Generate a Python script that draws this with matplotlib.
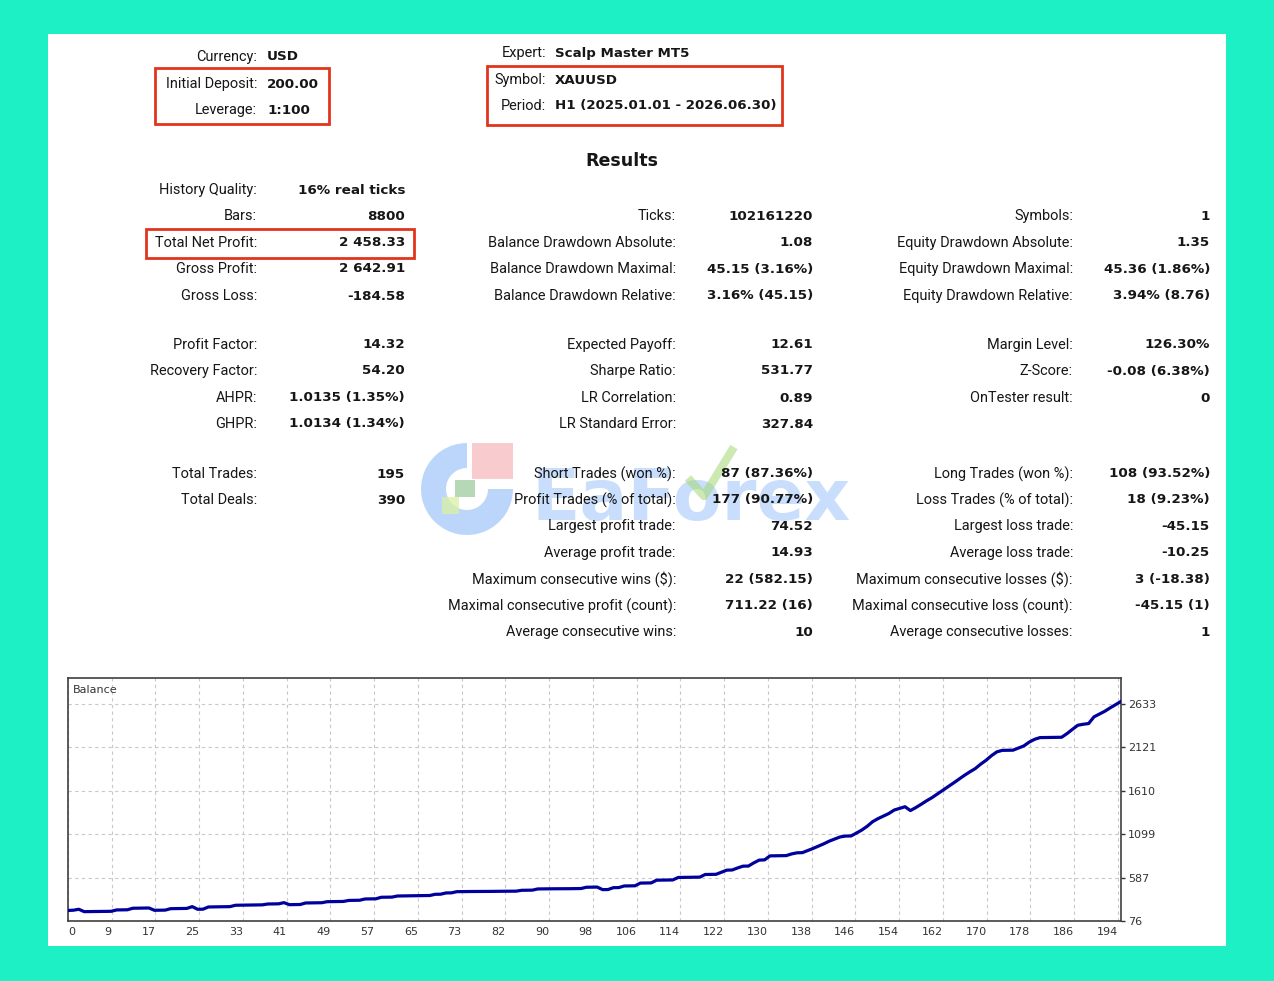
import matplotlib.pyplot as plt
import matplotlib.patches as mpatches
import numpy as np

# header block
head_left_labels = ["Currency:", "Initial Deposit:", "Leverage:"]
head_left_values = ["USD", "200.00", "1:100"]
head_right_labels = ["Expert:", "Symbol:", "Period:"]
head_right_values = ["Scalp Master MT5", "XAUUSD", "H1 (2025.01.01 - 2026.06.30)"]

# results table, three columns
left_labels = ["History Quality:", "Bars:", "Total Net Profit:", "Gross Profit:", "Gross Loss:",
               "Profit Factor:", "Recovery Factor:", "AHPR:", "GHPR:",
               "Total Trades:", "Total Deals:"]
left_values = ["16% real ticks", "8800", "2 458.33", "2 642.91", "-184.58",
               "14.32", "54.20", "1.0135 (1.35%)", "1.0134 (1.34%)",
               "195", "390"]

mid_labels = ["Ticks:", "Balance Drawdown Absolute:", "Balance Drawdown Maximal:",
              "Balance Drawdown Relative:", "Expected Payoff:", "Sharpe Ratio:",
              "LR Correlation:", "LR Standard Error:", "Short Trades (won %):",
              "Profit Trades (% of total):", "Largest profit trade:", "Average profit trade:",
              "Maximum consecutive wins ($):", "Maximal consecutive profit (count):",
              "Average consecutive wins:"]
mid_values = ["102161220", "1.08", "45.15 (3.16%)", "3.16% (45.15)", "12.61", "531.77",
              "0.89", "327.84", "87 (87.36%)", "177 (90.77%)", "74.52", "14.93",
              "22 (582.15)", "711.22 (16)", "10"]

right_labels = ["Symbols:", "Equity Drawdown Absolute:", "Equity Drawdown Maximal:",
                "Equity Drawdown Relative:", "Margin Level:", "Z-Score:", "OnTester result:",
                None, "Long Trades (won %):", "Loss Trades (% of total):", "Largest loss trade:",
                "Average loss trade:", "Maximum consecutive losses ($):",
                "Maximal consecutive loss (count):", "Average consecutive losses:"]
right_values = ["1", "1.35", "45.36 (1.86%)", "3.94% (8.76)", "126.30%", "-0.08 (6.38%)", "0",
                None, "108 (93.52%)", "18 (9.23%)", "-45.15", "-10.25", "3 (-18.38)",
                "-45.15 (1)", "1"]

# balance curve, one point per closed trade
balance = [
    200, 203, 214, 186, 187, 188, 188, 189, 190, 206,
    207, 208, 226, 227, 228, 229, 202, 203, 204, 221,
    222, 223, 224, 245, 214, 215, 241, 242, 243, 244,
    245, 261, 262, 263, 264, 265, 266, 276, 277, 278,
    292, 268, 269, 270, 288, 289, 290, 291, 303, 304,
    305, 306, 318, 319, 320, 335, 336, 337, 355, 356,
    357, 370, 371, 372, 373, 374, 375, 376, 390, 391,
    406, 407, 421, 422, 422, 423, 423, 424, 424, 425,
    425, 426, 426, 427, 437, 438, 439, 453, 454, 454,
    455, 455, 456, 456, 457, 458, 473, 474, 475, 445,
    446, 468, 469, 488, 489, 490, 522, 523, 524, 556,
    557, 558, 559, 588, 589, 590, 591, 592, 623, 624,
    625, 650, 674, 676, 700, 721, 722, 760, 792, 795,
    842, 843, 844, 845, 865, 878, 880, 905, 930, 957,
    985, 1016, 1040, 1065, 1075, 1076, 1110, 1146, 1190, 1244,
    1280, 1310, 1340, 1381, 1400, 1420, 1375, 1410, 1449, 1490,
    1527, 1570, 1613, 1655, 1700, 1745, 1789, 1830, 1868, 1920,
    1966, 2020, 2065, 2083, 2084, 2085, 2110, 2135, 2180, 2213,
    2233, 2234, 2235, 2236, 2237, 2280, 2330, 2378, 2390, 2398,
    2477, 2510, 2543, 2583, 2620, 2658.33,
]
y_ticks = [76, 587, 1099, 1610, 2121, 2633]
x_tick_labels = ["0", "9", "17", "25", "33", "41", "49", "57", "65", "73", "82", "90", "98",
                 "106", "114", "122", "130", "138", "146", "154", "162", "170", "178", "186", "194"]

W, H = 1274, 981
LABEL_FONT = "Roboto"
VALUE_FONT = "DejaVu Sans"
TXT = "#161616"
RED = "#e2341d"

fig = plt.figure(figsize=(W / 100, H / 100), dpi=100)
fig.patch.set_facecolor("#1ef0c6")

# full-figure canvas in pixel units for the report part
bg = fig.add_axes([0, 0, 1, 1])
bg.set_xlim(0, W)
bg.set_ylim(H, 0)
bg.axis("off")
bg.add_patch(mpatches.Rectangle((48, 34), 1178, 912, facecolor="white", edgecolor="none"))


def label(x, y, s):
    bg.text(x, y, s, ha="right", va="center", fontsize=10.45, family=LABEL_FONT, color=TXT,
            zorder=7)


def value(x, y, s, ha="right", size=9.7):
    bg.text(x, y, s, ha=ha, va="center", fontsize=size, family=VALUE_FONT,
            fontweight="bold", color=TXT, zorder=7)


for lab, val, y in zip(head_left_labels, head_left_values, [57, 84, 110]):
    label(257, y, lab)
    value(267, y, val, ha="left")
for lab, val, y in zip(head_right_labels, head_right_values, [53, 80, 106]):
    label(546, y, lab)
    value(555, y, val, ha="left", size=9.6)

bg.text(622, 161, "Results", ha="center", va="center", fontsize=12.6,
        family=VALUE_FONT, fontweight="bold", color=TXT)

row_y = [190, 216, 243, 269, 296, 345, 371, 398, 424, 474, 500, 526, 553, 579, 606, 632]

for lab, val, y in zip(left_labels, left_values, row_y):
    label(257, y, lab)
    value(405, y, val)
for lab, val, y in zip(mid_labels, mid_values, row_y[1:]):
    label(676, y, lab)
    value(813, y, val)
for lab, val, y in zip(right_labels, right_values, row_y[1:]):
    if lab is None:
        continue
    label(1073, y, lab)
    value(1210, y, val)

# red highlight boxes
for (x0, y0, x1, y1) in [(155, 68, 329, 124), (487, 66, 782, 125), (146, 229, 414, 258)]:
    bg.add_patch(mpatches.Rectangle((x0, y0), x1 - x0, y1 - y0, fill=False,
                                    edgecolor=RED, linewidth=2.0))

# watermark (logo + text), drawn under the report text
bg.add_patch(mpatches.Wedge((467, 489), 46, 0, 270, width=25, facecolor="#79aef7",
                            edgecolor="none", alpha=0.5, zorder=5))
bg.add_patch(mpatches.Rectangle((472, 443), 41, 36, facecolor="#f4a3a8", alpha=0.55,
                                edgecolor="none", zorder=5))
bg.add_patch(mpatches.Rectangle((455, 480), 20, 17, facecolor="#86bf86", alpha=0.6,
                                edgecolor="none", zorder=6))
bg.add_patch(mpatches.Rectangle((442, 497), 17, 17, facecolor="#d9f1a1", alpha=0.75,
                                edgecolor="none", zorder=6))
bg.text(531, 520, "EaForex", ha="left", va="baseline", fontsize=51, family=VALUE_FONT,
        fontweight="bold", color="#7fb2f8", alpha=0.42, zorder=5)
bg.plot([688, 704, 734], [478, 496, 447], color="#a3d873", lw=6, alpha=0.55,
        solid_capstyle="butt", zorder=6)

# balance chart
ax = fig.add_axes([68 / W, 1 - 921 / H, (1121 - 68) / W, (921 - 678) / H])
trade_no = np.arange(len(balance))
ax.plot(trade_no, balance, color="#00009c", lw=2.3, zorder=3)
ax.set_xlim(0, len(balance) - 1)
ax.set_ylim(76, 2934)

ax.yaxis.tick_right()
ax.set_yticks(y_ticks)
ax.set_yticklabels([str(v) for v in y_ticks])
x_pos = np.arange(len(x_tick_labels)) * 8.1
ax.set_xticks(x_pos)
ax.set_xticklabels(x_tick_labels)
for i, t in enumerate(ax.get_xticklabels()):
    t.set_ha("left" if i == 0 else "right")

ax.tick_params(axis="y", direction="out", length=3, width=1, pad=2,
               labelsize=8, colors="#333333")
ax.tick_params(axis="x", length=0, pad=4, labelsize=8, colors="#333333")
ax.grid(color="#c8c8c8", linestyle=(0, (3, 3)), linewidth=0.8)
for sp in ax.spines.values():
    sp.set_color("#404040")
    sp.set_linewidth(1.2)
ax.text(0.005, 0.95, "Balance", transform=ax.transAxes, ha="left", va="center",
        fontsize=8, color="#333333")

plt.savefig("out.png", dpi=100, facecolor=fig.get_facecolor())
